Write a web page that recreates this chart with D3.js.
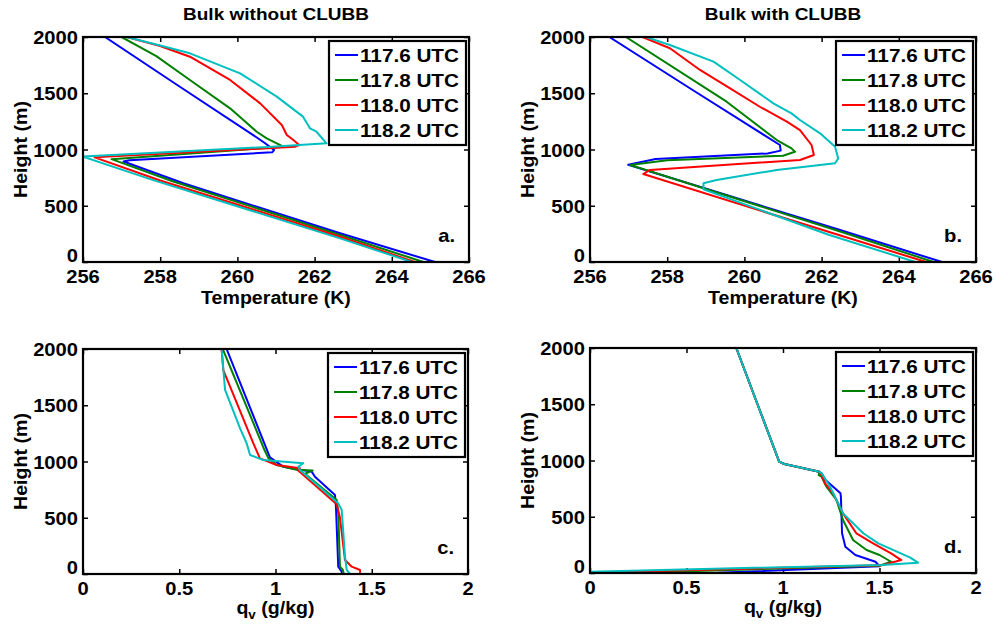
<!DOCTYPE html>
<html><head><meta charset="utf-8">
<script src="https://cdn.jsdelivr.net/npm/d3@7"></script>
<style>body{margin:0;background:#fff}svg{display:block}</style>
</head><body><svg id="c" width="998" height="626"></svg>
<script>
const series = ["117.6 UTC","117.8 UTC","118.0 UTC","118.2 UTC"];
const colors = ["#0000ff","#008000","#ff0000","#00bfbf"];
const titles = ["Bulk without CLUBB","Bulk with CLUBB"];
const tempTicks = [256,258,260,262,264,266];
const qvTicks = [0,0.5,1,1.5,2];
const hTicks = [0,500,1000,1500,2000];

// Panel a: temperature (K), height (m)
const tA_blue = [[256.57,2000],[258.5,1560],[260.4,1130],[260.7,1060],[260.95,995],[260.9,975],[257.2,905],[257.05,893],[258.6,700],[262.66,255],[265.12,0]];
const tA_green = [[257.0,2000],[257.9,1830],[258.77,1618],[259.81,1366],[260.5,1158],[260.76,1099],[261.19,1025],[256.74,914],[258.3,720],[262.66,240],[264.82,0]];
const tA_red = [[257.13,2000],[258.0,1920],[258.77,1825],[259.81,1618],[260.59,1410],[261.15,1218],[261.28,1129],[261.45,1084],[261.6,1040],[261.5,1025],[256.3,930],[258.0,725],[262.66,225],[264.6,0]];
const tA_cyan = [[257.13,2000],[258.0,1925],[258.77,1855],[260.07,1677],[261.02,1470],[261.7,1292],[261.88,1188],[262.05,1158],[262.27,1070],[262.31,1055],[260.9,1025],[256.0,937],[257.8,730],[262.66,210],[264.52,0]];

// Panel b
const tB_blue = [[256.5,2000],[258.7,1520],[260.92,1040],[260.94,990],[260.6,965],[257.7,915],[256.99,865],[262.48,284],[265.12,0]];
const tB_green = [[256.93,2000],[259.54,1425],[260.84,1084],[261.22,1010],[261.31,980],[261.0,945],[258.0,905],[257.04,862],[262.4,280],[264.9,0]];
const tB_red = [[257.36,2000],[258.07,1900],[258.85,1707],[259.63,1544],[260.4,1380],[261.1,1247],[261.44,1173],[261.74,1040],[261.8,951],[261.44,907],[257.55,818],[257.38,782],[262.3,255],[264.71,0]];
const tB_cyan = [[257.45,2000],[258.07,1929],[259.2,1781],[259.89,1618],[260.75,1410],[261.22,1321],[261.44,1262],[261.96,1144],[262.35,1025],[262.43,921],[262.35,877],[260.84,818],[259.28,729],[258.94,700],[258.94,646],[262.2,240],[264.43,0]];

// Panel c: water vapour (g/kg), height (m)
const qC_blue = [[0.746,2000],[0.971,1037],[1.04,954],[1.11,930],[1.188,910],[1.205,865],[1.309,702],[1.314,598],[1.326,65],[1.344,20],[1.345,0]];
const qC_green = [[0.726,2000],[0.945,1093],[0.963,1030],[1.006,969],[1.11,927],[1.193,921],[1.153,891],[1.318,658],[1.326,539],[1.335,65],[1.35,36],[1.355,0]];
const qC_red = [[0.72,2000],[0.729,1813],[0.885,1162],[0.919,1028],[1.006,969],[1.127,939],[1.115,925],[1.318,620],[1.335,500],[1.361,124],[1.396,65],[1.439,36],[1.44,10]];
const qC_cyan = [[0.72,2000],[0.738,1636],[0.816,1295],[0.85,1162],[0.868,1058],[0.937,1013],[1.144,984],[1.119,954],[1.127,924],[1.326,628],[1.344,569],[1.361,154],[1.37,36],[1.387,0]];

// Panel d
const qD_blue = [[0.758,2000],[0.98,990],[1.007,969],[1.188,900],[1.2,886],[1.22,827],[1.298,708],[1.30,680],[1.306,353],[1.323,234],[1.375,160],[1.479,100],[1.5,60],[0.66,2]];
const qD_green = [[0.758,2000],[0.98,990],[1.007,969],[1.188,900],[1.185,870],[1.2,856],[1.225,767],[1.277,649],[1.311,471],[1.363,293],[1.433,204],[1.5,160],[1.56,100],[1.5,65],[0.25,3]];
const qD_red = [[0.758,2000],[0.98,990],[1.007,969],[1.188,900],[1.2,870],[1.218,797],[1.26,708],[1.311,530],[1.38,353],[1.467,264],[1.56,175],[1.613,115],[1.51,68],[0.02,4]];
const qD_cyan = [[0.758,2000],[0.98,990],[1.007,969],[1.188,900],[1.2,886],[1.244,767],[1.311,530],[1.416,353],[1.494,264],[1.657,139],[1.70,92],[1.51,72],[0.0,12]];

const panels = [
  {x0:83,x1:469,y0:37,y1:262,dom:[256,266],ticks:tempTicks,data:[tA_blue,tA_green,tA_red,tA_cyan],tag:"a.",title:titles[0],xl:"T"},
  {x0:590,x1:976,y0:37,y1:262,dom:[256,266],ticks:tempTicks,data:[tB_blue,tB_green,tB_red,tB_cyan],tag:"b.",title:titles[1],xl:"T"},
  {x0:83,x1:468,y0:349,y1:574,dom:[0,2],ticks:qvTicks,data:[qC_blue,qC_green,qC_red,qC_cyan],tag:"c.",xl:"q"},
  {x0:590,x1:976,y0:348,y1:573,dom:[0,2],ticks:qvTicks,data:[qD_blue,qD_green,qD_red,qD_cyan],tag:"d.",xl:"q"}
];

const SX = 1.12;
const FONT = "'Liberation Sans', Arial, Helvetica, sans-serif";
const svg = d3.select("#c");

function txt(g, x, y, s, size, anchor, rot) {
  const t = g.append("text")
    .attr("transform", `translate(${x},${y})` + (rot ? ` rotate(${rot})` : "") + ` scale(${SX},1)`)
    .attr("font-family", FONT).attr("font-weight", "bold").attr("font-size", size)
    .attr("text-anchor", anchor || "start").attr("fill", "#000");
  if (s !== null) t.text(s);
  return t;
}

panels.forEach(p => {
  const x = d3.scaleLinear().domain(p.dom).range([p.x0, p.x1]);
  const y = d3.scaleLinear().domain([0, 2000]).range([p.y1, p.y0]);
  const g = svg.append("g");

  const tk = 5;
  const axB = d3.axisBottom(x).tickValues(p.ticks).tickSize(-tk).tickFormat("");
  const axT = d3.axisTop(x).tickValues(p.ticks).tickSize(-tk).tickFormat("");
  const axL = d3.axisLeft(y).tickValues(hTicks).tickSize(-tk).tickFormat("");
  const axR = d3.axisRight(y).tickValues(hTicks).tickSize(-tk).tickFormat("");
  [[axB,`translate(0,${p.y1})`],[axT,`translate(0,${p.y0})`],[axL,`translate(${p.x0},0)`],[axR,`translate(${p.x1},0)`]].forEach(([a,tr]) => {
    const ag = g.append("g").attr("transform", tr).call(a);
    ag.select(".domain").remove();
    ag.selectAll("line").attr("stroke", "#000").attr("stroke-width", 1.5);
  });

  const clip = "clip" + p.tag.replace(".", "");
  svg.append("clipPath").attr("id", clip).append("rect")
    .attr("x", p.x0).attr("y", p.y0).attr("width", p.x1 - p.x0).attr("height", p.y1 - p.y0);
  const cg = g.append("g").attr("clip-path", `url(#${clip})`);
  const lineStraight = d3.line().x(d => x(d[0])).y(d => y(d[1]));
  p.data.forEach((d, i) => {
    cg.append("path").datum(d).attr("d", lineStraight).attr("fill", "none")
      .attr("stroke", colors[i]).attr("stroke-width", 2).attr("stroke-linejoin", "round");
  });

  g.append("rect").attr("x", p.x0).attr("y", p.y0).attr("width", p.x1 - p.x0).attr("height", p.y1 - p.y0)
    .attr("fill", "none").attr("stroke", "#000").attr("stroke-width", 2.2);

  p.ticks.forEach(v => txt(g, x(v), p.y1 + 21, String(v), 18, "middle"));
  hTicks.forEach(v => txt(g, p.x0 - 5, y(v) + (v === 0 ? 0 : 7), String(v), 18, "end"));

  txt(g, p.x0 - 56, (p.y0 + p.y1) / 2, "Height (m)", 17.5, "middle", -90);
  if (p.xl === "T") {
    txt(g, (p.x0 + p.x1) / 2, p.y1 + 42, "Temperature (K)", 17.5, "middle");
  } else {
    const t = txt(g, (p.x0 + p.x1) / 2, p.y1 + 40, null, 17.5, "middle");
    t.append("tspan").text("q");
    t.append("tspan").attr("font-size", 12).attr("dy", 5).text("v");
    t.append("tspan").attr("dy", -5).text(" (g/kg)");
  }
  if (p.title) txt(g, (p.x0 + p.x1) / 2, 20, p.title, 17, "middle");

  txt(g, p.x1 - 14, p.y1 - 20, p.tag, 18, "end");

  const lx = p.x1 - 140, ly = p.y0 + 4;
  g.append("rect").attr("x", lx).attr("y", ly).attr("width", 137).attr("height", 104)
    .attr("fill", "#fff").attr("stroke", "#000").attr("stroke-width", 2.2);
  series.forEach((s, i) => {
    const ry = ly + 14 + i * 25;
    g.append("line").attr("x1", lx + 6).attr("x2", lx + 29).attr("y1", ry).attr("y2", ry)
      .attr("stroke", colors[i]).attr("stroke-width", 2);
    txt(g, lx + 31, ry + 6.5, s, 18.5, "start");
  });
});
</script></body></html>
